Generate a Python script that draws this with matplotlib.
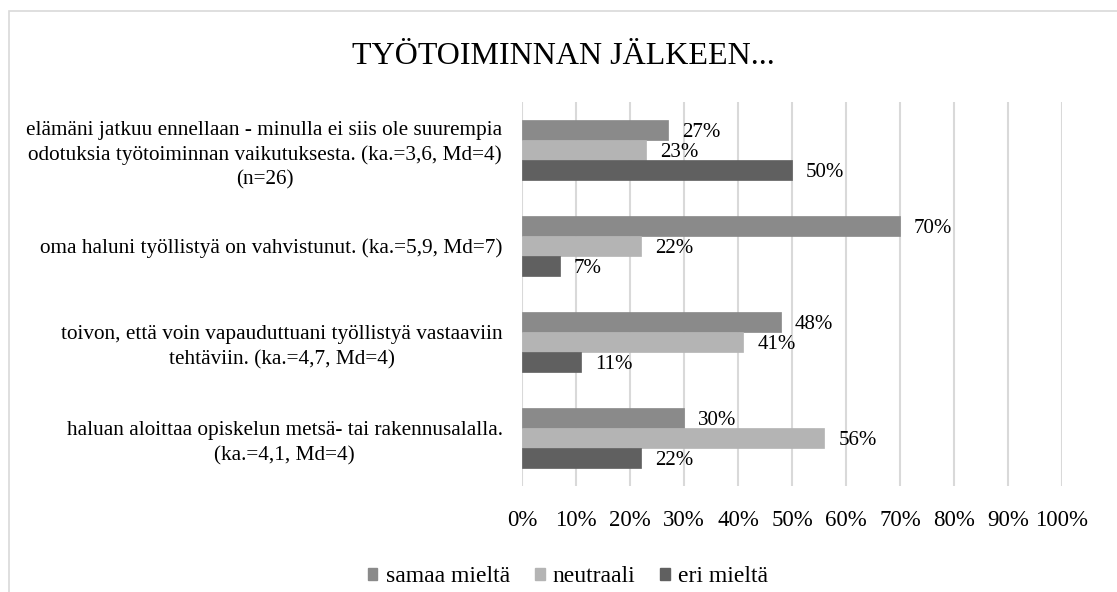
import matplotlib
matplotlib.use("Agg")
import matplotlib.pyplot as plt
import matplotlib.patches as mpatches
import numpy as np

plt.rcParams['font.family'] = ['Liberation Serif', 'DejaVu Serif']

title = "TYÖTOIMINNAN JÄLKEEN..."
categories = [
    "elämäni jatkuu ennellaan - minulla ei siis ole suurempia\nodotuksia työtoiminnan vaikutuksesta. (ka.=3,6, Md=4)\n(n=26)",
    "oma haluni työllistyä on vahvistunut. (ka.=5,9, Md=7)",
    "toivon, että voin vapauduttuani työllistyä vastaaviin\ntehtäviin. (ka.=4,7, Md=4)",
    "haluan aloittaa opiskelun metsä- tai rakennusalalla.\n(ka.=4,1, Md=4)",
]
series_names = ["samaa mieltä", "neutraali", "eri mieltä"]
samaa = [27, 70, 48, 30]
neutraali = [23, 22, 41, 56]
eri = [50, 7, 11, 22]
colors = ["#8a8a8a", "#b4b4b4", "#606060"]
xticks = [0, 10, 20, 30, 40, 50, 60, 70, 80, 90, 100]
xticklabels = [f"{v}%" for v in xticks]

W, H = 1117, 592
fig = plt.figure(figsize=(W / 100, H / 100), dpi=100)
ax = fig.add_axes([522 / W, 1 - 486 / H, (1062 - 522) / W, (486 - 102) / H])

n = len(categories)
y = np.arange(n)
bh = 0.21
data = [samaa, neutraali, eri]
for i, (vals, c, name) in enumerate(zip(data, colors, series_names)):
    pos = y + (i - 1) * bh
    ax.barh(pos, vals, height=bh, color=c, edgecolor=c, linewidth=0.5, label=name, zorder=3)
    for p, v in zip(pos, vals):
        ax.annotate(f"{v}%", xy=(v, p), xytext=(10, -2), textcoords="offset points",
                    ha="left", va="center", fontsize=15, color="#000000", zorder=4)

ax.set_ylim(n - 0.5, -0.5)
ax.set_xlim(0, 100)
ax.set_xticks(xticks)
ax.set_xticklabels(xticklabels, fontsize=16.5)
ax.set_yticks(y)
ax.set_yticklabels(categories, fontsize=15.3, linespacing=1.38, multialignment="center")
ax.tick_params(axis="x", length=0, pad=17)
ax.tick_params(axis="y", length=0, pad=14)
for s in ax.spines.values():
    s.set_visible(False)
ax.grid(axis="x", color="#d9d9d9", linewidth=1.5, zorder=0)
ax.set_axisbelow(True)

fig.text(563 / W, 1 - 57 / H, title, ha="center", va="center", fontsize=23)

handles = [mpatches.Patch(facecolor=c, edgecolor=c) for c in colors]
fig.legend(handles, series_names, loc="center", bbox_to_anchor=(568 / W, 1 - 577 / H),
           ncol=3, frameon=False, fontsize=17, handlelength=0.42, handleheight=0.42,
           handletextpad=0.35, columnspacing=1.05)

border = mpatches.Rectangle((9 / W, -0.1), 1.2, 1 - 11 / H + 0.1, transform=fig.transFigure,
                            fill=False, edgecolor="#d9d9d9", linewidth=1.2)
fig.patches.append(border)

fig.savefig("out.png", dpi=100)
